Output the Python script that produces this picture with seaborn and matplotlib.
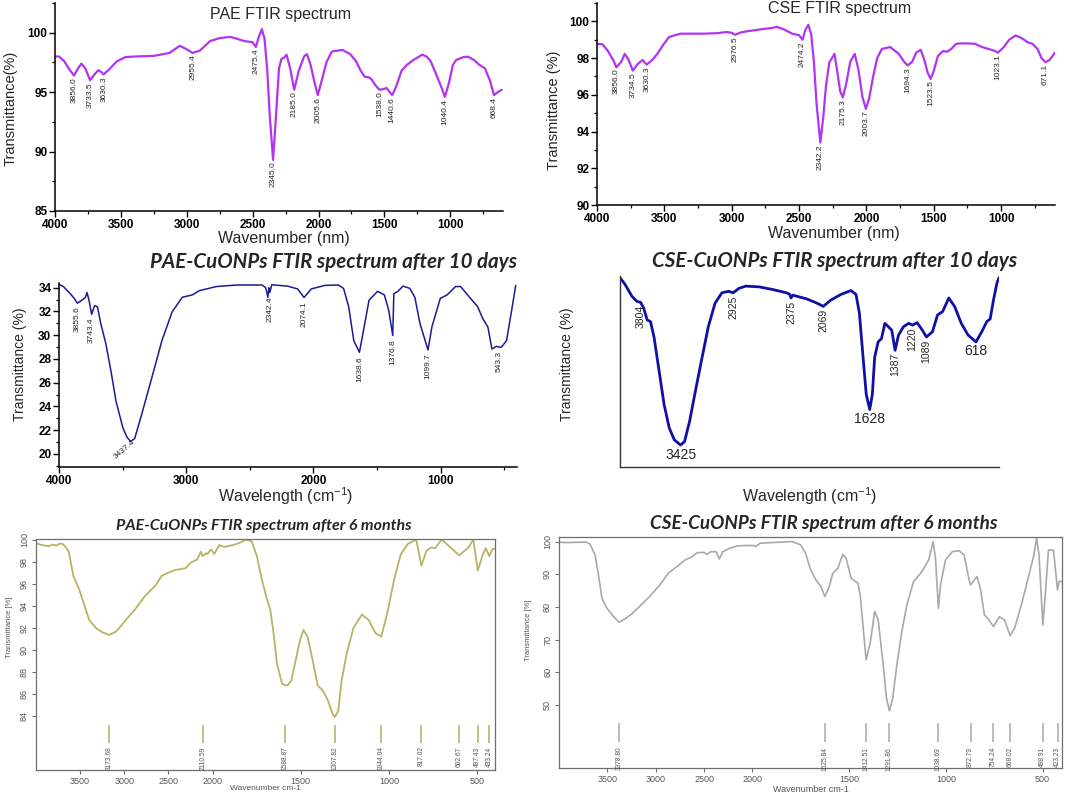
import numpy as np
import pandas as pd
import matplotlib
matplotlib.use("Agg")
import matplotlib.pyplot as plt
import seaborn as sns
from matplotlib.ticker import MultipleLocator, FixedLocator

sns.set_theme(style="white")
plt.rcParams['font.family'] = ['Liberation Sans', 'DejaVu Sans']
plt.rcParams['mathtext.default'] = 'regular'

# ---------------- data (wavenumber cm-1, transmittance) ----------------
pae_spectrum = [(4000, 98.0), (3970, 98.0), (3930, 97.6), (3890, 96.9), (3856, 96.4), (3825, 97.0),
    (3800, 97.4), (3770, 97.0), (3733.5, 96.0), (3700, 96.5), (3671, 96.85), (3650, 96.7), (3630.3, 96.5),
    (3590, 96.9), (3530, 97.6), (3465, 97.95), (3388, 98.0), (3250, 98.05), (3131, 98.3), (3053, 98.9),
    (3000, 98.6), (2955.4, 98.3), (2900, 98.5), (2822, 99.3), (2750, 99.55), (2667, 99.65), (2564, 99.3),
    (2500, 99.2), (2475.4, 98.8), (2455, 99.6), (2430, 100.3), (2410, 99.5), (2390, 97.0), (2370, 93.0),
    (2345, 89.3), (2320, 93.5), (2300, 97.0), (2281, 97.8), (2262, 97.9), (2243, 98.15), (2215, 97.0),
    (2185, 95.2), (2150, 96.8), (2110, 98.0), (2088, 98.2), (2060, 97.3), (2030, 95.8), (2005.6, 94.75),
    (1980, 95.8), (1940, 97.5), (1900, 98.4), (1882, 98.45), (1818, 98.55), (1760, 98.2), (1715, 97.6),
    (1680, 96.8), (1650, 96.3), (1620, 96.25), (1599, 96.1), (1570, 95.6), (1538, 95.2), (1510, 95.25),
    (1483, 95.35), (1460, 95.0), (1440.6, 94.75), (1410, 95.5), (1370, 96.8), (1329, 97.3), (1280, 97.7),
    (1213, 98.15), (1180, 98.0), (1149, 97.6), (1100, 96.3), (1060, 95.2), (1040.4, 94.6), (1010, 95.8),
    (980, 97.3), (956, 97.7), (900, 97.95), (865, 97.98), (820, 97.7), (780, 97.3), (737, 97.0),
    (700, 96.0), (668.4, 94.75), (640, 95.0), (610, 95.2)]
pae_peaks = ["3856.0", "3733.5", "3630.3", "2955.4", "2475.4", "2345.0", "2185.0", "2005.6",
             "1538.0", "1440.6", "1040.4", "668.4"]

cse_spectrum = [(4000, 98.78), (3960, 98.75), (3920, 98.4), (3880, 97.9), (3856, 97.5), (3820, 97.8),
    (3794, 98.23), (3765, 97.9), (3734.5, 97.32), (3695, 97.7), (3661, 97.9), (3645, 97.75), (3630.3, 97.65),
    (3590, 97.9), (3555, 98.2), (3510, 98.7), (3467, 99.14), (3420, 99.25), (3379, 99.33), (3300, 99.33),
    (3204, 99.33), (3100, 99.36), (3040, 99.42), (3000, 99.38), (2976.5, 99.27), (2930, 99.4),
    (2877, 99.47), (2780, 99.57), (2701, 99.64), (2664, 99.7), (2610, 99.55), (2551, 99.33), (2500, 99.25),
    (2474.2, 99.0), (2455, 99.5), (2431, 99.82), (2410, 99.3), (2390, 97.8), (2370, 95.5), (2342.2, 93.4),
    (2320, 94.8), (2300, 96.5), (2275, 97.78), (2255, 98.0), (2237, 98.23), (2215, 97.2), (2195, 96.2),
    (2175.3, 95.86), (2150, 96.6), (2120, 97.8), (2087, 98.23), (2060, 97.4), (2030, 95.9), (2003.7, 95.23),
    (1980, 95.8), (1950, 97.0), (1920, 98.0), (1885, 98.5), (1823, 98.6), (1760, 98.23), (1720, 97.8),
    (1694.3, 97.6), (1660, 97.8), (1630, 98.3), (1597, 98.45), (1570, 97.9), (1545, 97.2), (1523.5, 96.87),
    (1500, 97.3), (1470, 98.1), (1433, 98.38), (1400, 98.35), (1370, 98.5), (1333, 98.78), (1296, 98.8),
    (1250, 98.8), (1195, 98.78), (1140, 98.6), (1095, 98.5), (1050, 98.4), (1023.1, 98.3), (980, 98.6),
    (940, 99.0), (893, 99.23), (850, 99.1), (800, 98.85), (768, 98.78), (730, 98.5), (700, 98.0),
    (671.1, 97.78), (640, 97.9), (600, 98.3)]
cse_peaks = ["3856.0", "3734.5", "3630.3", "2976.5", "2474.2", "2342.2", "2175.3", "2003.7",
             "1694.3", "1523.5", "1023.1", "671.1"]

pae10_spectrum = [(4000, 34.28), (3965, 34.1), (3930, 33.7), (3912, 33.5), (3880, 33.1), (3855.6, 32.7),
    (3820, 32.95), (3792, 33.2), (3780, 33.6), (3765, 33.0), (3743.4, 31.76), (3720, 32.5), (3698, 32.4),
    (3672, 31.0), (3632, 29.3), (3592, 27.0), (3552, 24.45), (3498, 22.2), (3465, 21.4), (3437.4, 21.05),
    (3405, 21.3), (3351, 23.3), (3271, 26.4), (3191, 29.55), (3111, 31.96), (3031, 33.2), (2951, 33.4),
    (2898, 33.75), (2764, 34.1), (2604, 34.23), (2404, 34.23), (2375, 34.0), (2358, 33.2), (2350, 34.0),
    (2342.4, 33.6), (2328, 34.25), (2204, 34.14), (2124, 33.9), (2074.1, 33.18), (2017, 33.9), (1910, 34.2),
    (1803, 34.23), (1763, 33.94), (1723, 32.4), (1683, 29.55), (1638.6, 28.56), (1617, 29.8), (1563, 32.95),
    (1496, 33.7), (1443, 33.4), (1408, 32.1), (1376.8, 29.98), (1368, 33.5), (1336, 33.7), (1296, 34.14),
    (1243, 33.95), (1203, 33.2), (1163, 31.0), (1099.7, 28.76), (1069, 30.7), (1003, 33.1), (949, 33.4),
    (883, 34.1), (843, 34.1), (789, 33.4), (709, 32.4), (669, 31.4), (629, 30.7), (597, 28.84),
    (562, 29.07), (543.3, 29.0), (522, 29.0), (482, 29.55), (442, 32.1), (410, 34.2)]
pae10_peaks = ["3855.6", "3743.4", "2342.4", "2074.1", "1638.6", "1376.8", "1099.7", "543.3"]
pae10_main_peak = "3437.4"

cse10_spectrum = [(4000, 99.1), (3952, 95.6), (3887, 89.4), (3839, 86.7), (3804, 86.2), (3775, 83.2),
    (3742, 77.0), (3710, 76.1), (3677, 68.1), (3629, 50.4), (3581, 32.7), (3532, 20.4), (3484, 14.2),
    (3425, 11.5), (3387, 13.3), (3339, 23.9), (3290, 38.0), (3226, 55.8), (3161, 73.5), (3097, 85.8),
    (3032, 91.2), (2968, 92.0), (2925, 91.2), (2871, 93.5), (2806, 94.7), (2677, 94.3), (2548, 92.9),
    (2419, 91.2), (2390, 90.5), (2375, 88.5), (2360, 90.0), (2226, 88.0), (2129, 85.8), (2069, 84.1),
    (2000, 87.3), (1903, 90.3), (1806, 92.4), (1758, 90.3), (1726, 80.5), (1694, 59.3), (1661, 38.0),
    (1628, 30.1), (1603, 38.0), (1581, 57.5), (1548, 65.5), (1516, 67.3), (1484, 75.2), (1452, 73.5),
    (1419, 71.7), (1387, 61.1), (1355, 69.0), (1307, 73.5), (1258, 75.2), (1220, 74.3), (1178, 75.6),
    (1129, 71.7), (1089, 68.1), (1032, 70.8), (984, 79.6), (935, 81.4), (877, 88.5), (822, 84.1),
    (758, 75.2), (693, 69.0), (618, 65.5), (564, 70.8), (516, 76.1), (484, 77.5), (452, 87.6),
    (419, 96.5), (400, 99.1)]
cse10_minor_peaks = ["3804", "2925", "2375", "2069", "1387", "1220", "1089"]
cse10_major_peaks = ["3425", "1628", "618"]

pae6_spectrum = [(4000, 99.69), (3952, 99.54), (3900, 99.45), (3856, 99.39), (3810, 99.55), (3770, 99.45),
    (3740, 99.6), (3703, 99.63), (3680, 99.45), (3665, 99.33), (3627, 98.87), (3577, 96.7), (3512, 95.5),
    (3454, 94.1), (3397, 92.7), (3320, 91.97), (3244, 91.57), (3173.68, 91.36), (3091, 91.66),
    (2995, 92.58), (2880, 93.65), (2765, 94.88), (2650, 95.8), (2574, 96.72), (2500, 97.0), (2421, 97.24),
    (2306, 97.4), (2249, 97.9), (2172, 98.2), (2134, 98.9), (2110.59, 98.5), (2075, 98.75), (2057, 98.7),
    (2019, 99.1), (1990, 98.7), (1962, 99.5), (1933, 99.33), (1885, 99.5), (1846, 99.7), (1808, 100.0),
    (1779, 99.85), (1750, 98.56), (1721, 96.4), (1692, 94.6), (1673, 93.65), (1654, 91.5), (1635, 88.75),
    (1606, 86.9), (1588.87, 86.8), (1577, 86.76), (1554, 87.2), (1529, 89.06), (1504, 90.9), (1485, 91.8),
    (1462, 91.2), (1433, 89.06), (1404, 86.76), (1375, 86.3), (1346, 85.4), (1323, 84.3), (1307.82, 83.9),
    (1288, 84.46), (1269, 87.2), (1240, 89.67), (1202, 91.97), (1154, 93.2), (1115, 92.7), (1077, 91.5),
    (1044.04, 91.2), (1010, 93.35), (971, 96.4), (933, 98.7), (894, 99.6), (846, 100.0), (817.02, 97.64),
    (788, 99.0), (760, 99.3), (740, 99.2), (702, 100.0), (644, 99.17), (602.67, 98.56), (548, 99.33),
    (523, 100.0), (497.43, 97.18), (471, 98.56), (452, 99.23), (433.24, 98.5), (413, 99.17), (400, 99.15)]
pae6_peaks = ["3173.68", "2110.59", "1588.87", "1307.82", "1044.04", "817.02", "602.67", "497.43", "433.24"]

cse6_spectrum = [(4000, 99.8), (3908, 99.7), (3768, 99.8), (3715, 99.8), (3680, 99.2), (3627, 95.9),
    (3592, 89.8), (3556, 82.65), (3504, 79.6), (3451, 77.55), (3378.8, 75.3), (3310, 76.5), (3239, 78.06),
    (3169, 80.1), (3063, 83.2), (2958, 86.7), (2870, 90.3), (2782, 92.35), (2694, 94.4), (2623, 95.4),
    (2570, 96.6), (2500, 96.7), (2472, 96.1), (2430, 96.9), (2377, 96.9), (2342, 94.7), (2306, 96.9),
    (2236, 97.96), (2148, 98.7), (2060, 98.8), (1995, 98.8), (1983, 98.5), (1960, 99.5), (1899, 99.7),
    (1794, 100.0), (1751, 99.0), (1725, 96.4), (1699, 91.3), (1672, 88.3), (1646, 86.2), (1625.84, 83.2),
    (1603, 86.2), (1585, 90.3), (1559, 91.8), (1533, 96.1), (1516, 94.9), (1490, 88.8), (1455, 87.2),
    (1443, 83.7), (1429, 74.5), (1412.51, 63.8), (1390, 69.4), (1368, 78.6), (1350, 76.0), (1324, 62.2),
    (1307, 52.0), (1291.86, 48.2), (1275, 52.0), (1254, 62.2), (1228, 72.4), (1202, 80.6), (1167, 87.8),
    (1124, 90.8), (1089, 94.4), (1066, 100.0), (1054, 94.9), (1038.69, 79.6), (1028, 86.7), (1002, 94.4),
    (967, 96.9), (932, 97.2), (906, 95.9), (880, 88.3), (872.79, 86.7), (840, 89.3), (822, 85.7),
    (801, 77.55), (784, 76.5), (754.24, 74.0), (723, 77.0), (697, 76.0), (668.02, 71.2), (645, 73.5),
    (610, 80.6), (575, 88.8), (549, 94.9), (531, 101.0), (519, 95.9), (498.91, 74.5), (484, 85.7),
    (470, 97.4), (444, 97.4), (423.23, 85.2), (415, 87.8), (400, 87.8)]
cse6_peaks = ["3378.80", "1625.84", "1412.51", "1291.86", "1038.69", "872.79", "754.24", "668.02",
              "498.91", "423.23"]

# ---------------- helpers ----------------
W, H = 1065, 797
fig = plt.figure(figsize=(W / 100, H / 100), dpi=100)
fig.patch.set_facecolor("white")
NARROW = ['Liberation Sans Narrow', 'Liberation Sans', 'DejaVu Sans']
TITLE_FONT = ['Lato', 'Open Sans', 'DejaVu Sans']


def add_ax(l, t, r, b):
    return fig.add_axes([l / W, 1 - b / H, (r - l) / W, (b - t) / H])


def ftext(x, y, s, **kw):
    return fig.text(x / W, 1 - y / H, s, **kw)


def draw(ax, spectrum, color, lw):
    wn, tr = zip(*spectrum)
    df = pd.DataFrame({"wn": wn, "T": tr})
    sns.lineplot(data=df, x="wn", y="T", ax=ax, color=color, linewidth=lw,
                 sort=False, estimator=None)
    ax.set_xlabel("")
    ax.set_ylabel("")
    return np.array(wn, float), np.array(tr, float)


def value_at(wn, tr, p):
    return float(np.interp(p, wn[::-1], tr[::-1]))


def fwd(w):
    w = np.asarray(w, float)
    return np.where(w > 2000, 2000 + (w - 2000) / 2.0, w)


def inv(u):
    u = np.asarray(u, float)
    return np.where(u > 2000, 2000 + (u - 2000) * 2.0, u)


def origin_axes(ax):
    for s in ("top", "right"):
        ax.spines[s].set_visible(False)
    for s in ("left", "bottom"):
        ax.spines[s].set_color("black")
        ax.spines[s].set_linewidth(1.1)
    ax.set_facecolor("white")
    ax.tick_params(which="both", direction="out", left=True, bottom=True, colors="black")
    ax.tick_params(which="major", length=4, width=1.0, labelsize=8.5, pad=1.5)
    ax.tick_params(which="minor", length=2, width=0.9)
    for lab in ax.get_xticklabels() + ax.get_yticklabels():
        lab.set_fontweight("bold")


# ---------------- panel 1: PAE ----------------
VIOLET = "#b234f2"
ax1 = add_ax(55, 3, 503, 211)
wn, tr = draw(ax1, pae_spectrum, VIOLET, 1.6)
ax1.set_xlim(4000, 600)
ax1.set_ylim(85, 102.5)
ax1.xaxis.set_major_locator(FixedLocator([4000, 3500, 3000, 2500, 2000, 1500, 1000]))
ax1.xaxis.set_minor_locator(FixedLocator([3750, 3250, 2750, 2250, 1750, 1250, 750]))
ax1.yaxis.set_major_locator(FixedLocator([85, 90, 95, 100]))
ax1.yaxis.set_minor_locator(MultipleLocator(2.5))
origin_axes(ax1)
for lab in pae_peaks:
    p = float(lab)
    ax1.text(p, value_at(wn, tr, p) - 0.15, lab, rotation=90, ha="center", va="top",
             fontsize=6, family=NARROW)
ftext(280, 15, "PAE FTIR spectrum", ha="center", va="center", fontsize=11.5)
ftext(284, 238, "Wavenumber (nm)", ha="center", va="center", fontsize=11.5)
ftext(11, 108, "Transmittance(%)", ha="center", va="center", rotation=90, fontsize=10.5, family=NARROW)

# ---------------- panel 2: CSE ----------------
ax2 = add_ax(597, 3, 1055, 205)
wn, tr = draw(ax2, cse_spectrum, VIOLET, 1.6)
ax2.set_xlim(4000, 600)
ax2.set_ylim(90, 101)
ax2.xaxis.set_major_locator(FixedLocator([4000, 3500, 3000, 2500, 2000, 1500, 1000]))
ax2.xaxis.set_minor_locator(FixedLocator([3750, 3250, 2750, 2250, 1750, 1250, 750]))
ax2.yaxis.set_major_locator(MultipleLocator(2))
ax2.yaxis.set_minor_locator(MultipleLocator(1))
origin_axes(ax2)
for lab in cse_peaks:
    p = float(lab)
    ax2.text(p, value_at(wn, tr, p) - 0.08, lab, rotation=90, ha="center", va="top",
             fontsize=6, family=NARROW)
ftext(840, 8, "CSE FTIR spectrum", ha="center", va="center", fontsize=11.5)
ftext(834, 233, "Wavenumber (nm)", ha="center", va="center", fontsize=11.5)
ftext(554, 110, "Transmittance (%)", ha="center", va="center", rotation=90, fontsize=10.5, family=NARROW)

# ---------------- panel 3: PAE-CuONPs 10 days ----------------
NAVY = "#1b1b94"
ax3 = add_ax(59, 283, 517, 467)
wn, tr = draw(ax3, pae10_spectrum, NAVY, 1.1)
ax3.set_xlim(4000, 400)
ax3.set_ylim(18.9, 34.4)
ax3.xaxis.set_major_locator(FixedLocator([4000, 3000, 2000, 1000]))
ax3.xaxis.set_minor_locator(FixedLocator([3500, 2500, 1500, 500]))
ax3.yaxis.set_major_locator(FixedLocator([20, 22, 24, 26, 28, 30, 32, 34]))
ax3.yaxis.set_minor_locator(MultipleLocator(1))
origin_axes(ax3)
for lab in pae10_peaks:
    p = float(lab)
    ax3.text(p, value_at(wn, tr, p) - 0.3, lab, rotation=90, ha="center", va="top",
             fontsize=6, family=NARROW)
p = float(pae10_main_peak)
ax3.text(p + 45, value_at(wn, tr, p) - 0.65, pae10_main_peak, rotation=40, ha="center",
         va="center", fontsize=6, family=NARROW)
ftext(334, 262, "PAE-CuONPs FTIR spectrum after 10 days", ha="center", va="center",
      fontsize=14.8, fontweight="bold", style="italic", family=TITLE_FONT)
ftext(286, 496, "Wavelength (cm$^{-1}$)", ha="center", va="center", fontsize=11.5)
ftext(20, 364, "Transmittance (%)", ha="center", va="center", rotation=90, fontsize=10, family=NARROW)

# ---------------- panel 4: CSE-CuONPs 10 days ----------------
ax4 = add_ax(620, 276, 999, 467)
wn, tr = draw(ax4, cse10_spectrum, "#1010a8", 2.0)
ax4.set_xlim(4000, 400)
ax4.set_ylim(0, 100)
for s in ("top", "right"):
    ax4.spines[s].set_visible(False)
for s in ("left", "bottom"):
    ax4.spines[s].set_color("#333333")
    ax4.spines[s].set_linewidth(1.0)
ax4.set_xticks([])
ax4.set_yticks([])
for lab in cse10_minor_peaks:
    p = float(lab)
    ax4.text(p, value_at(wn, tr, p) - 1.5, lab, rotation=90, ha="center", va="top",
             fontsize=7.5, family="Liberation Sans")
for lab in cse10_major_peaks:
    p = float(lab)
    ax4.text(p, value_at(wn, tr, p) - 1.3, lab, ha="center", va="top",
             fontsize=10, family="Liberation Sans")
ftext(835, 261, "CSE-CuONPs FTIR spectrum after 10 days", ha="center", va="center",
      fontsize=14.8, fontweight="bold", style="italic", family=TITLE_FONT)
ftext(810, 496, "Wavelength (cm$^{-1}$)", ha="center", va="center", fontsize=11.5)
ftext(567, 364, "Transmittance (%)", ha="center", va="center", rotation=90, fontsize=10, family=NARROW)


# ---------------- R-style panels (6 months) ----------------
def r_axes(ax, yticks):
    ax.set_facecolor("white")
    for s in ax.spines.values():
        s.set_visible(True)
        s.set_color("#6e6e6e")
        s.set_linewidth(0.9)
    ax.xaxis.set_major_locator(FixedLocator([3500, 3000, 2500, 2000, 1500, 1000, 500]))
    ax.xaxis.set_minor_locator(FixedLocator([]))
    ax.yaxis.set_major_locator(FixedLocator(yticks))
    ax.yaxis.set_minor_locator(FixedLocator([]))
    ax.tick_params(which="major", direction="out", left=True, bottom=True, length=3, width=0.8,
                   colors="#6e6e6e", labelcolor="#555555", labelsize=6.5, pad=2)
    ax.tick_params(axis="y", labelrotation=90)
    for lab in ax.get_yticklabels():
        lab.set_va("center")


OLIVE = "#b7b463"
ax5 = add_ax(36, 539, 495, 770)
wn, tr = draw(ax5, pae6_spectrum, OLIVE, 1.3)
ax5.set_xscale("function", functions=(fwd, inv))
ax5.set_xlim(4000, 400)
ax5.set_ylim(79.1, 100.05)
r_axes(ax5, [84, 86, 88, 90, 92, 94, 96, 98, 100])
pos = [float(s) for s in pae6_peaks]
ax5.vlines(pos, 81.55, 83.2, color=OLIVE, linewidth=1.2)
for lab, p in zip(pae6_peaks, pos):
    ax5.text(p, 81.25, lab, rotation=90, ha="center", va="top", fontsize=4.8, color="#555555")
ftext(264, 526, "PAE-CuONPs FTIR spectrum after 6 months", ha="center", va="center",
      fontsize=11.5, fontweight="bold", style="italic", family=TITLE_FONT)
ftext(265, 789, "Wavenumber cm-1", ha="center", va="center", fontsize=6, color="#555555")
ftext(10, 627, "Transmittance [%]", ha="center", va="center", rotation=90, fontsize=5.5, color="#555555")

GREY = "#a9a9a9"
ax6 = add_ax(559, 537, 1062, 768)
wn, tr = draw(ax6, cse6_spectrum, GREY, 1.2)
ax6.set_xscale("function", functions=(fwd, inv))
ax6.set_xlim(4000, 400)
ax6.set_ylim(30.7, 101.4)
r_axes(ax6, [50, 60, 70, 80, 90, 100])
pos = [float(s) for s in cse6_peaks]
ax6.vlines(pos, 38.7, 44.5, color=GREY, linewidth=1.1)
for lab, p in zip(cse6_peaks, pos):
    ax6.text(p, 37.2, lab, rotation=90, ha="center", va="top", fontsize=4.8, color="#555555")
ftext(824, 523, "CSE-CuONPs FTIR spectrum after 6 months", ha="center", va="center",
      fontsize=13.6, fontweight="bold", style="italic", family=TITLE_FONT)
ftext(811, 789, "Wavenumber cm-1", ha="center", va="center", fontsize=6.5, color="#555555")
ftext(529, 630, "Transmittance [%]", ha="center", va="center", rotation=90, fontsize=5.5, color="#555555")

fig.savefig("out.png", dpi=100, facecolor="white")
